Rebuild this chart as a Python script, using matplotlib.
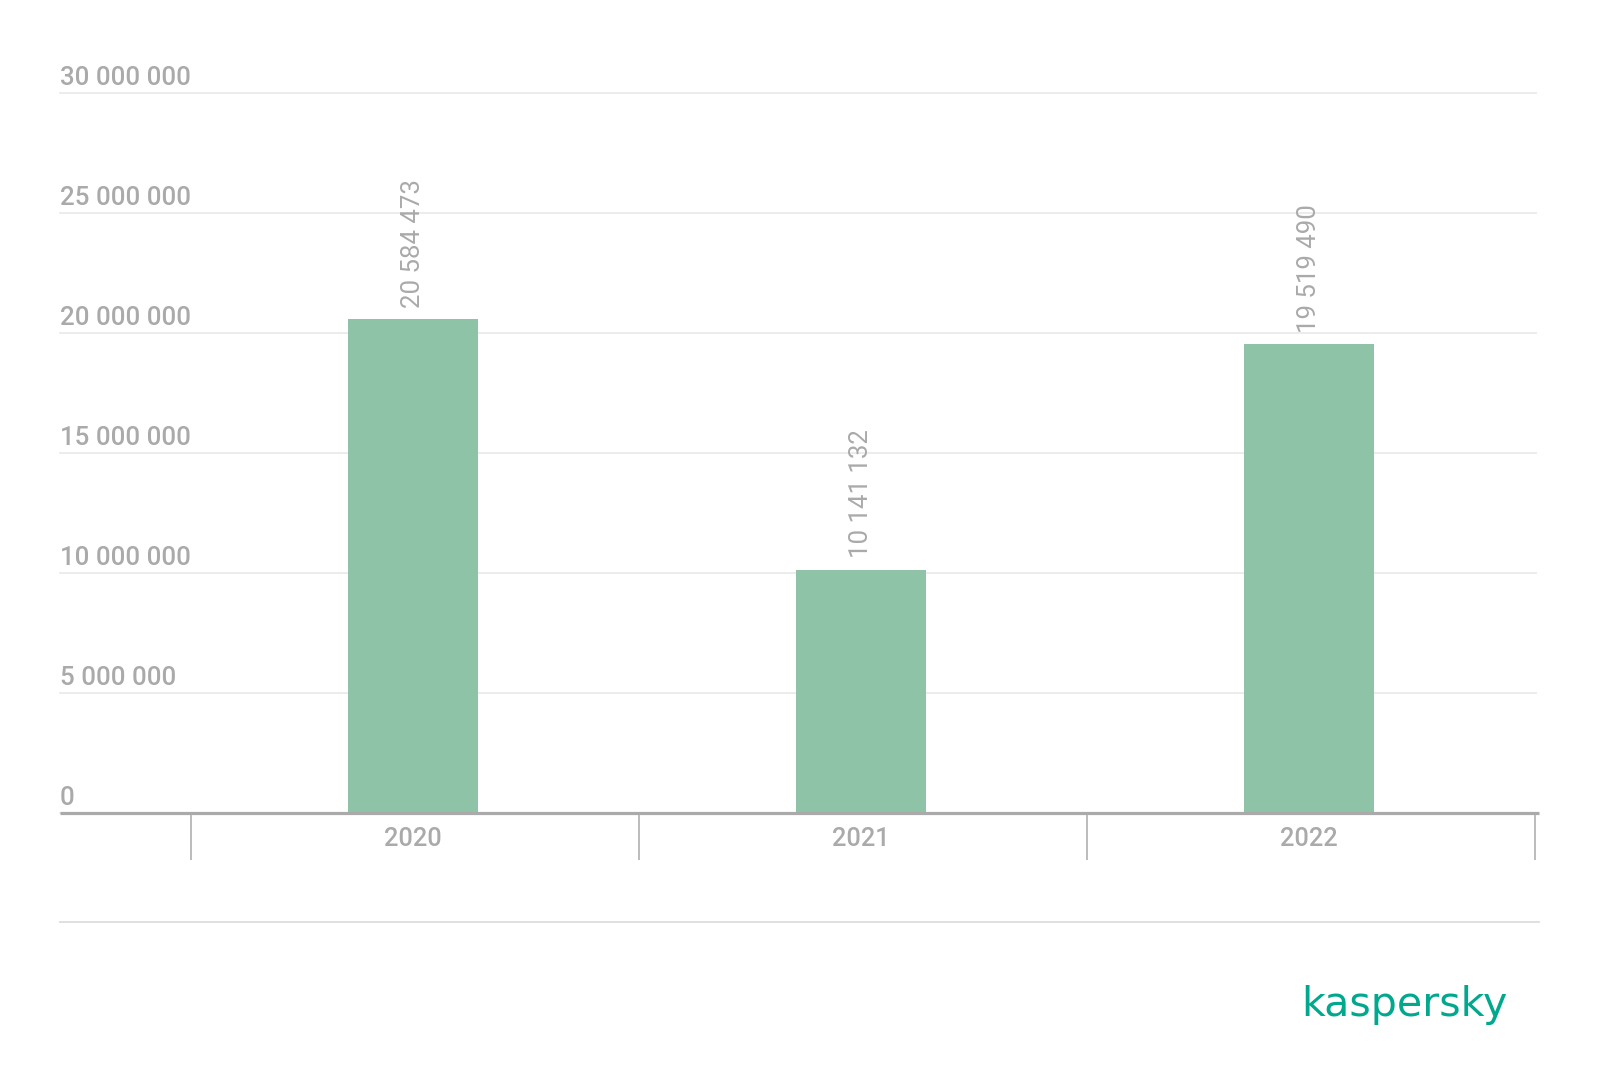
import matplotlib
matplotlib.use("Agg")
import matplotlib.pyplot as plt
import matplotlib.transforms as mtransforms

plt.rcParams['font.family'] = ['Roboto', 'DejaVu Sans']

years = ["2020", "2021", "2022"]
values = [20584473, 10141132, 19519490]
y_ticks = [0, 5000000, 10000000, 15000000, 20000000, 25000000, 30000000]

BAR = "#8fc3a7"
GREY = "#aaaaaa"
GRID = "#ebebeb"
WEIGHT = "medium"

fig = plt.figure(figsize=(16, 10.86), dpi=100)
ax = fig.add_axes([60/1600, 1 - 813/1086, (1536 - 60)/1600, (813 - 92.8)/1086])

x = list(range(len(years)))
ax.bar(x, values, width=0.29, color=BAR, zorder=2)

ax.set_xlim(-0.7875, 2.507)
ax.set_ylim(0, 30000000)

# gridlines
ax.set_yticks(y_ticks)
ax.yaxis.grid(True, color=GRID, linewidth=1.3, zorder=0)
ax.yaxis.set_tick_params(length=0, labelleft=False)
for l in ax.yaxis.get_gridlines():
    l.set_clip_on(False)

for s in ax.spines.values():
    s.set_visible(False)

# y labels sitting above gridlines, left-aligned
trans = mtransforms.blended_transform_factory(ax.transAxes, ax.transData)
for t in y_ticks:
    lab = f"{t:,}".replace(",", " ")
    ax.annotate(lab, xy=(0, t), xycoords=trans, xytext=(0, 5.5), textcoords="offset points",
                ha="left", va="baseline", fontsize=18.6, color=GREY, fontweight=WEIGHT)

# baseline axis line
ax.plot([0, 1.002], [0, 0], transform=trans, color=GREY, linewidth=2.3, clip_on=False, zorder=3,
        solid_capstyle="butt")

# x ticks
ax.set_xticks(x)
ax.set_xticklabels(years, fontsize=18.3, color=GREY, fontweight=WEIGHT)
ax.tick_params(axis="x", which="major", length=0, pad=10)
d = 0.0046
ax.set_xticks([-0.5 + d, 0.5 + d, 1.5 + d, 2.5 + d], minor=True)
ax.tick_params(axis="x", which="minor", length=33.5, width=1.1, color=GREY, direction="out")

# bar value labels
for xi, v in zip(x, values):
    ax.annotate(f"{v:,}".replace(",", " "), xy=(xi, v), xytext=(0, 8), textcoords="offset points",
                rotation=90, ha="center", va="bottom", fontsize=18.6, color=GREY)

# bottom separator line
fig.add_artist(plt.Line2D([60/1600, 1539/1600], [1 - 922/1086, 1 - 922/1086],
                          color="#dddddd", linewidth=1.3))

# logo text
fig.text(1508/1600, 1 - 1005/1086, "kaspersky", ha="right", va="center",
         fontsize=29.6, color="#00a88e", family=["DejaVu Sans"])

fig.savefig("out.png", dpi=100, facecolor="white")
